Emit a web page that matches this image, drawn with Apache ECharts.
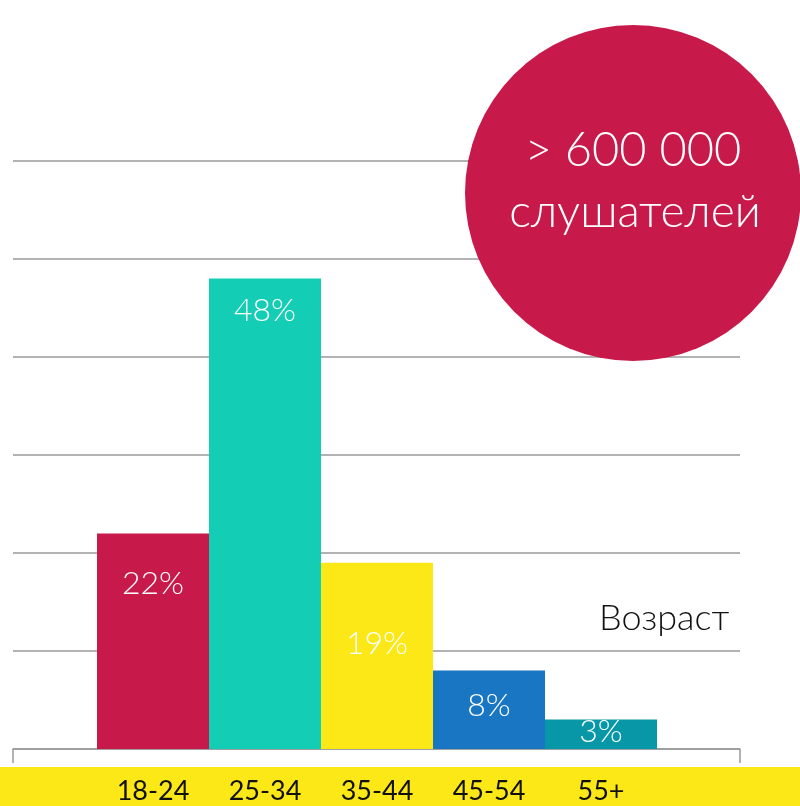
<!DOCTYPE html>
<html>
<head>
<meta charset="utf-8">
<script src="https://cdn.jsdelivr.net/npm/echarts@6/dist/echarts.min.js"></script>
<style>
  html, body { margin: 0; padding: 0; background: #fff; }
  #chart { width: 800px; height: 806px; }
</style>
</head>
<body>
<div id="chart"></div>
<script>
// data
const ageGroups = ['18-24', '25-34', '35-44', '45-54', '55+']
const shares = [22, 48, 19, 8, 3]
const barColors = ['#C8194B', '#14CDB5', '#FCE817', '#1976C2', '#0797A6']
const axisTitle = 'Возраст'
const headline = ['> 600 000', 'слушателей']

// label distance from bar top (layout only)
const labelDist = [34, 16, 65, 19, -4]

const chart = echarts.init(document.getElementById('chart'))

const font = "Lato, 'Noto Sans', sans-serif"

chart.setOption({
  animation: false,
  grid: [
    { left: 13, right: 60, top: 161, bottom: 57 },
    { left: 97, right: 143, top: 161, bottom: 57 }
  ],
  xAxis: [
    {
      gridIndex: 0,
      type: 'category',
      data: ['', ''],
      boundaryGap: false,
      axisLine: { lineStyle: { color: '#999', width: 1.5 } },
      axisTick: { show: true, length: 14, lineStyle: { color: '#999', width: 1.5 } },
      axisLabel: { show: false }
    },
    {
      gridIndex: 1,
      type: 'category',
      data: ageGroups,
      axisLine: { show: false },
      axisTick: { show: false },
      axisLabel: {
        margin: 29,
        fontFamily: font,
        fontSize: 27,
        color: '#111'
      }
    }
  ],
  yAxis: [
    {
      gridIndex: 0,
      type: 'value',
      min: 0,
      max: 60,
      interval: 10,
      axisLine: { show: false },
      axisTick: { show: false },
      axisLabel: { show: false },
      splitLine: { lineStyle: { color: '#999', width: 1.5 } }
    },
    {
      gridIndex: 1,
      type: 'value',
      min: 0,
      max: 60,
      interval: 10,
      show: false,
      splitLine: { show: false }
    }
  ],
  graphic: [
    {
      type: 'rect',
      z: -10,
      shape: { x: 0, y: 767, width: 800, height: 39 },
      style: { fill: '#FCE817' }
    },
    {
      type: 'circle',
      z: 100,
      shape: { cx: 633, cy: 193, r: 168 },
      style: { fill: '#C8194B' }
    },
    {
      type: 'text',
      z: 101,
      x: 633,
      y: 151,
      style: {
        text: headline[0],
        fill: '#fff',
        font: '300 47px ' + font,
        align: 'center',
        verticalAlign: 'middle'
      }
    },
    {
      type: 'text',
      z: 101,
      x: 635,
      y: 212,
      style: {
        text: headline[1],
        fill: '#fff',
        font: '300 46px ' + font,
        align: 'center',
        verticalAlign: 'middle'
      }
    },
    {
      type: 'text',
      z: 101,
      x: 599,
      y: 618,
      style: {
        text: axisTitle,
        fill: '#111',
        font: '300 36px ' + font,
        align: 'left',
        verticalAlign: 'middle'
      }
    }
  ],
  series: [
    {
      type: 'bar',
      xAxisIndex: 1,
      yAxisIndex: 1,
      barWidth: '100%',
      barCategoryGap: 0,
      data: shares.map((v, i) => ({
        value: v,
        itemStyle: { color: barColors[i] },
        label: { distance: labelDist[i] }
      })),
      label: {
        show: true,
        position: 'insideTop',
        formatter: '{c}%',
        color: '#fff',
        fontFamily: font,
        fontWeight: 300,
        fontSize: 32,
        lineHeight: 32
      }
    }
  ]
})
</script>
</body>
</html>
